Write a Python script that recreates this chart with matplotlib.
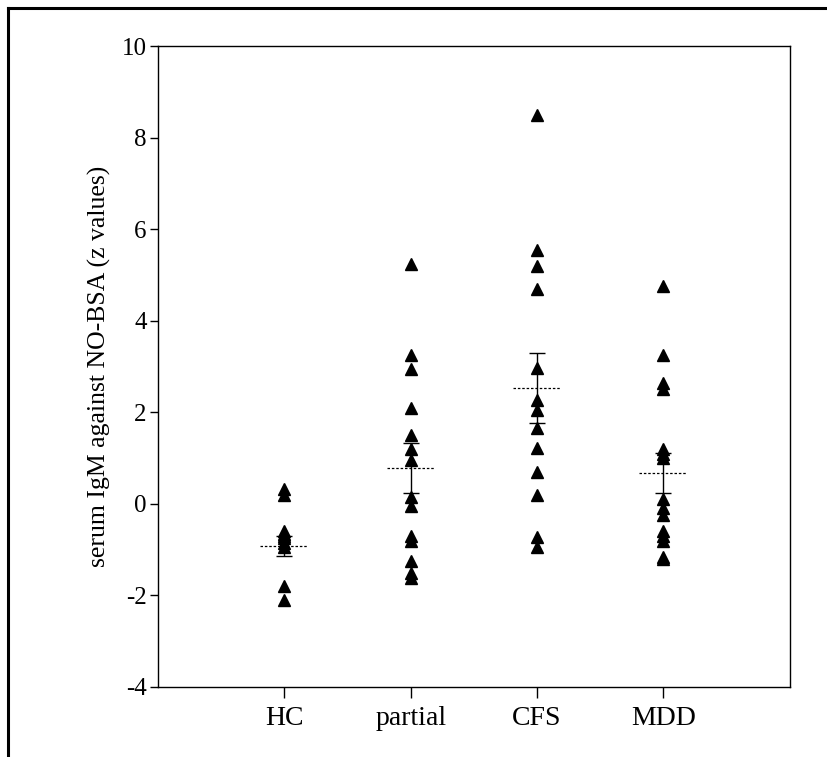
import matplotlib
matplotlib.use("Agg")
import matplotlib.pyplot as plt
from matplotlib.lines import Line2D

# ── Data ───────────────────────────────────────
groups = ["HC", "partial", "CFS", "MDD"]

hc      = [0.32, 0.2, -0.6, -0.65, -0.7, -0.75, -0.85, -0.95, -1.8, -2.1]
partial = [5.25, 3.25, 2.95, 2.1, 1.5, 1.2, 0.95, 0.15, -0.05, -0.7, -0.8, -1.25, -1.5, -1.62]
cfs     = [8.5, 5.55, 5.2, 4.7, 2.97, 2.27, 2.05, 1.65, 1.22, 0.7, 0.2, -0.72, -0.95]
mdd     = [4.75, 3.25, 2.65, 2.5, 1.2, 1.1, 1.0, 0.1, -0.1, -0.25, -0.6, -0.7, -0.8, -1.15, -1.2]

means = [-0.92, 0.78, 2.53, 0.67]
sems  = [0.22, 0.55, 0.76, 0.44]

# ── Plot ──────────────────────────────────────
plt.rcParams["font.family"] = ["Liberation Serif", "DejaVu Serif"]
fig = plt.figure(figsize=(8.27, 7.57), dpi=100)
ax = fig.add_axes([0.191, 0.0925, 0.764, 0.8465])

for i, vals in enumerate([hc, partial, cfs, mdd]):
    pos = i + 1
    ax.plot([pos] * len(vals), vals, "^", color="black", markersize=8, linestyle="none")
    # mean (dotted) and SEM bar
    ax.plot([pos - 0.19, pos + 0.19], [means[i], means[i]], color="black", linestyle=(0, (2, 1.5)), linewidth=0.9)
    ax.errorbar(pos, means[i], yerr=sems[i], color="black", capsize=6, elinewidth=1.0, capthick=1.0, fmt="none")

ax.set_xlim(0, 5)
ax.set_ylim(-4, 10)
ax.set_yticks(range(-4, 11, 2))
ax.set_yticklabels([str(v) for v in range(-4, 11, 2)])
ax.set_xticks(range(1, 5))
ax.set_xticklabels(groups)
ax.tick_params(axis="both", direction="out", width=1, color="black")
ax.tick_params(axis="y", length=6, pad=2, labelsize=18)
ax.tick_params(axis="x", length=8, pad=6, labelsize=20)
ax.set_ylabel("serum IgM against NO-BSA (z values)", fontsize=18.5, labelpad=8)
for sp in ax.spines.values():
    sp.set_linewidth(1.0)

# outer frame (cut at right and bottom edges)
fig.add_artist(Line2D([8 / 827, 1.0], [1 - 8 / 757, 1 - 8 / 757], color="black", linewidth=2.2))
fig.add_artist(Line2D([8 / 827, 8 / 827], [0.0, 1 - 8 / 757], color="black", linewidth=2.2))

plt.savefig("out.png", dpi=100)
